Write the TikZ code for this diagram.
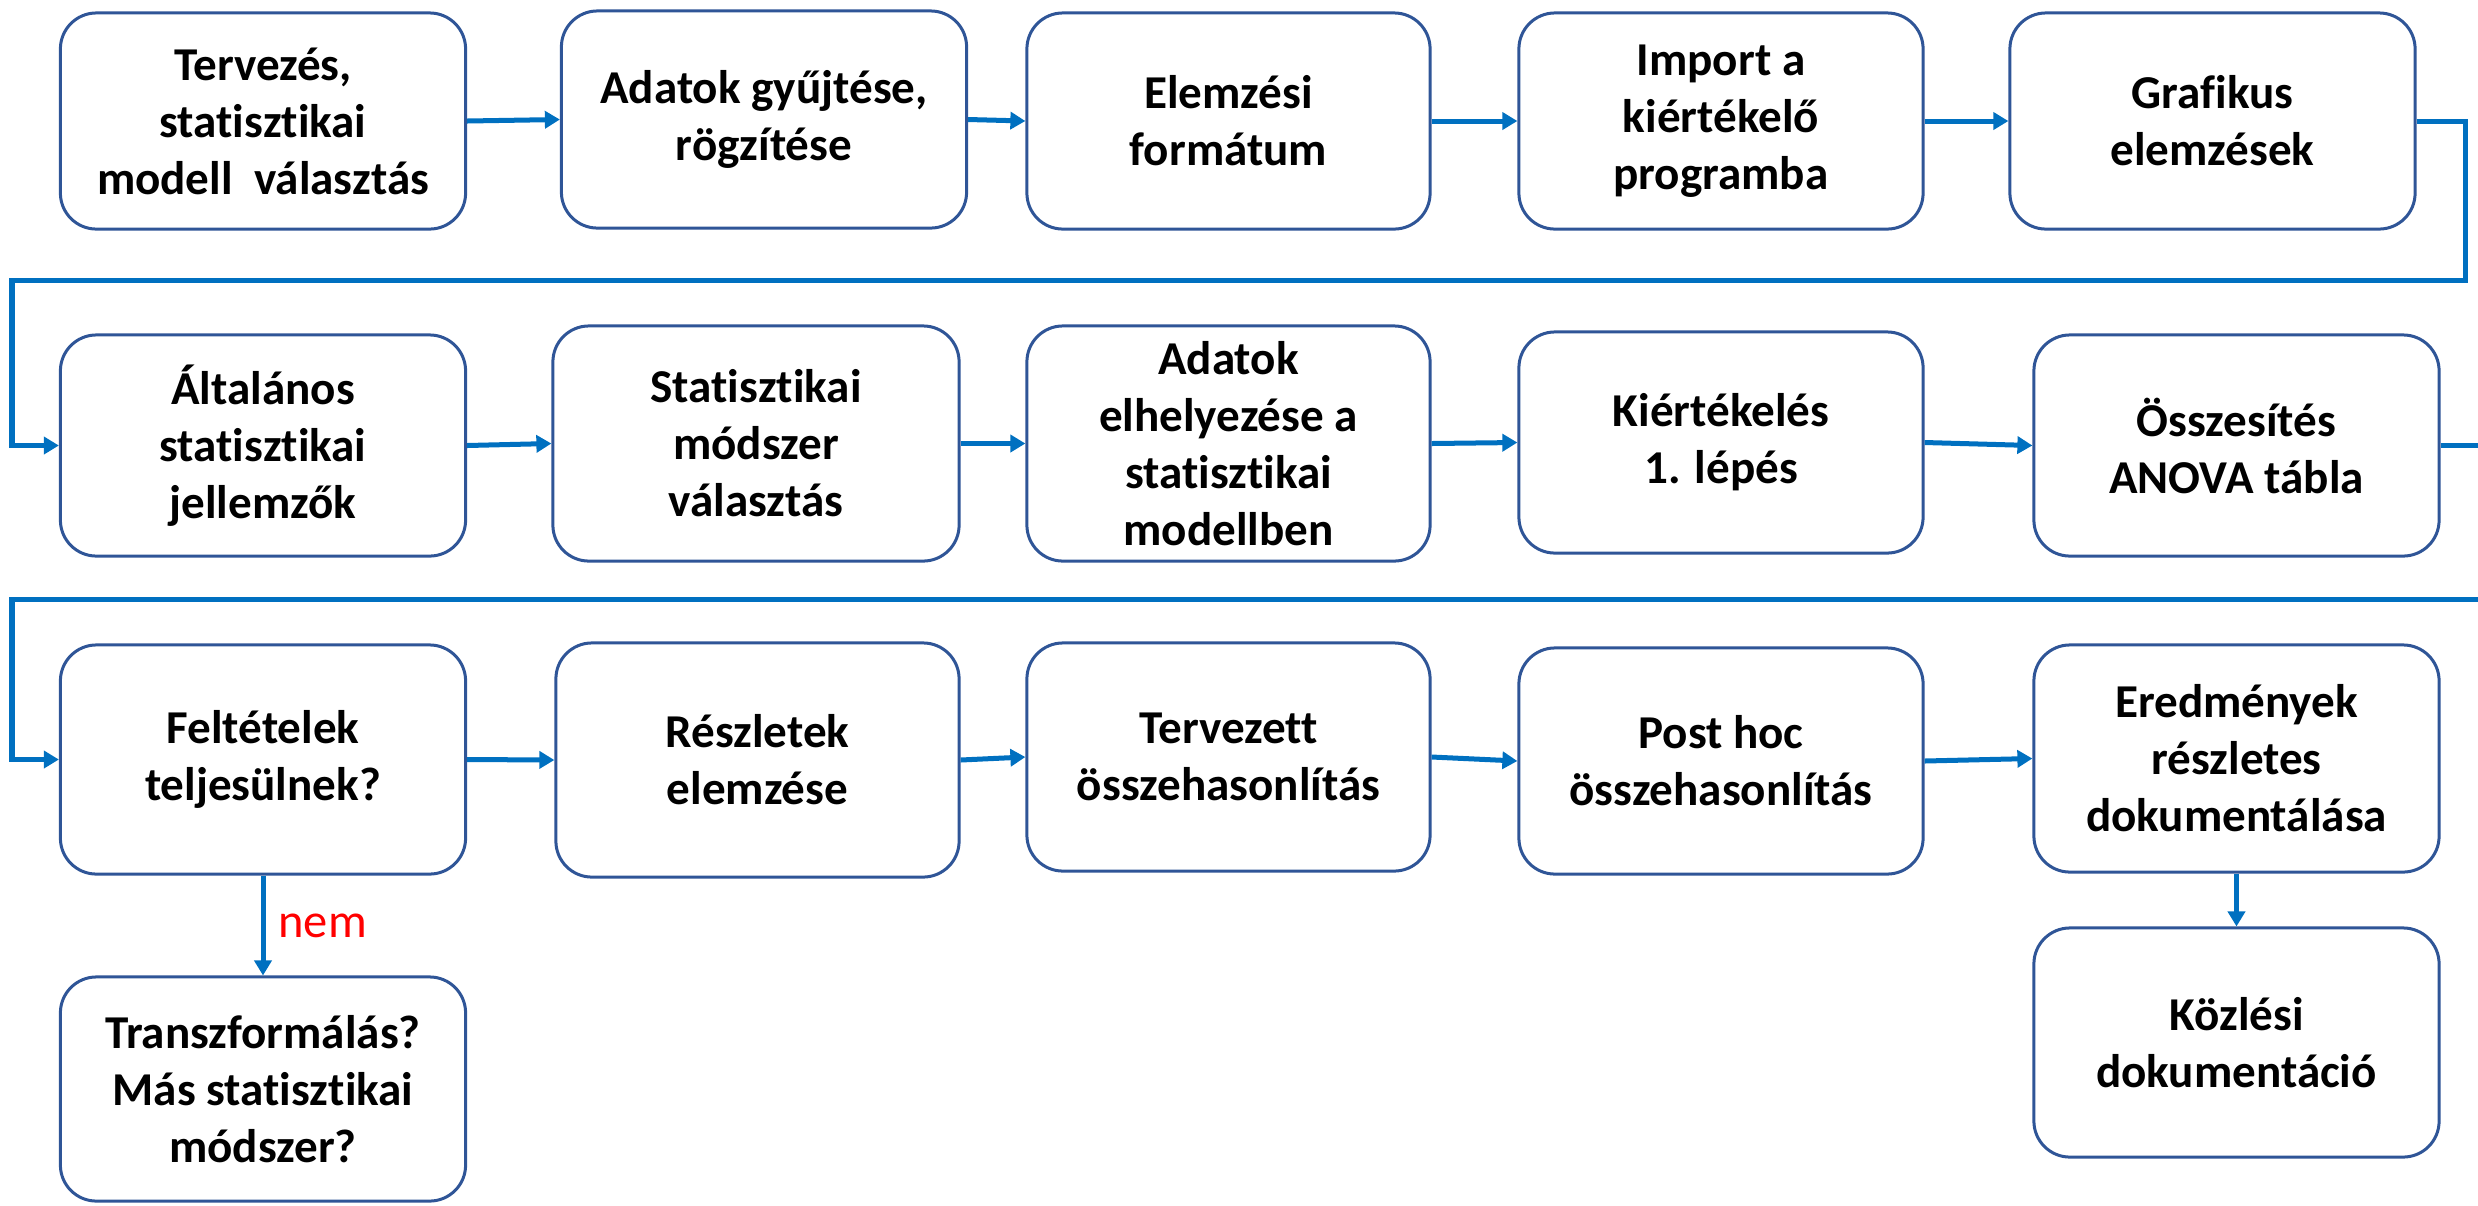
\documentclass[tikz,border=0pt]{standalone}
\usepackage{fontspec}
\setmainfont{Carlito}[Ligatures=NoCommon]
\usetikzlibrary{arrows.meta}
\definecolor{connblue}{HTML}{0070C0}
\definecolor{boxline}{HTML}{2F5597}
\tikzset{
  box/.style={draw=boxline, line width=0.03cm, rounded corners=0.36cm, fill=white,
    align=center, inner sep=0pt, minimum width=4.05cm,
    font=\fontsize{13.4}{16.2}\selectfont\bfseries},
  flow/.style={draw=connblue, line width=0.05cm, -{Triangle[length=0.15cm,width=0.17cm]}},
  lbl/.style={text=red, inner sep=0pt, font=\fontsize{13.8}{16}\selectfont},
}
\begin{document}
\begin{tikzpicture}[x=0.01cm,y=-0.01cm]
\useasboundingbox (0,0) rectangle (2478,1205);
% row 1
\node[box, minimum height=2.16cm] (b1) at (263,121) {Tervezés,\\statisztikai\\modell\ \ választás};
\node[box, minimum height=2.17cm] (b2) at (764,119.5) {Adatok gyűjtése,\\rögzítése};
\node[box, minimum height=2.16cm, minimum width=4.03cm] (b3) at (1228.5,121) {Elemzési\\formátum};
\node[box, minimum height=2.16cm, minimum width=4.04cm] (b4) at (1721,121) {Import a\\kiértékelő\\programba};
\node[box, minimum height=2.16cm] (b5) at (2212.5,121) {Grafikus\\elemzések};
% row 2
\node[box, minimum height=2.21cm] (b6) at (263,445.5) {Általános\\statisztikai\\jellemzők};
\node[box, minimum height=2.35cm, minimum width=4.06cm] (b7) at (756,443.5) {Statisztikai\\módszer\\választás};
\node[box, minimum height=2.35cm, minimum width=4.03cm] (b8) at (1228.5,443.5) {Adatok\\elhelyezése a\\statisztikai\\modellben};
\node[box, minimum height=2.21cm, minimum width=4.04cm] (b9) at (1721,442.5) {Kiértékelés\\1. lépés};
\node[box, minimum height=2.21cm] (b10) at (2236.5,445.5) {Összesítés\\ANOVA tábla};
% row 3
\node[box, minimum height=2.29cm] (b11) at (263,759.5) {Feltételek\\teljesülnek?};
\node[box, minimum height=2.34cm, minimum width=4.03cm] (b12) at (757.5,760) {Részletek\\elemzése};
\node[box, minimum height=2.28cm, minimum width=4.03cm] (b13) at (1228.5,757) {Tervezett\\összehasonlítás};
\node[box, minimum height=2.26cm, minimum width=4.04cm] (b14) at (1721,761) {Post hoc\\összehasonlítás};
\node[box, minimum height=2.27cm] (b15) at (2236.5,758.5) {Eredmények\\részletes\\dokumentálása};
% row 4
\node[box, minimum height=2.24cm] (b16) at (263,1089) {Transzformálás?\\Más statisztikai\\módszer?};
\node[box, minimum height=2.29cm] (b17) at (2236.5,1042.5) {Közlési\\dokumentáció};
% connectors row 1
\draw[flow] (b1.east) -- (b2.west);
\draw[flow] (b2.east) -- (b3.west);
\draw[flow] (b3.east) -- (b4.west);
\draw[flow] (b4.east) -- (b5.west);
% loop 1
\coordinate (r1) at (2465,280);
\coordinate (l1) at (12,280);
\draw[flow] (b5.east) -| (r1) -- (l1) |- (b6.west);
% row 2
\draw[flow] (b6.east) -- (b7.west);
\draw[flow] (b7.east) -- (b8.west);
\draw[flow] (b8.east) -- (b9.west);
\draw[flow] (b9.east) -- (b10.west);
% loop 2 (turns outside the page)
\coordinate (r2) at (2510,599);
\coordinate (l2) at (12,599);
\draw[flow] (b10.east) -| (r2) -- (l2) |- (b11.west);
% row 3
\draw[flow] (b11.east) -- (b12.west);
\draw[flow] (b12.east) -- (b13.west);
\draw[flow] (b13.east) -- (b14.west);
\draw[flow] (b14.east) -- (b15.west);
% down arrows
\draw[flow] (b11.south) -- node[lbl, right=0.13cm, pos=0.5] (nem) {nem} (b16.north);
\draw[flow] (b15.south) -- (b17.north);
\end{tikzpicture}
\end{document}
